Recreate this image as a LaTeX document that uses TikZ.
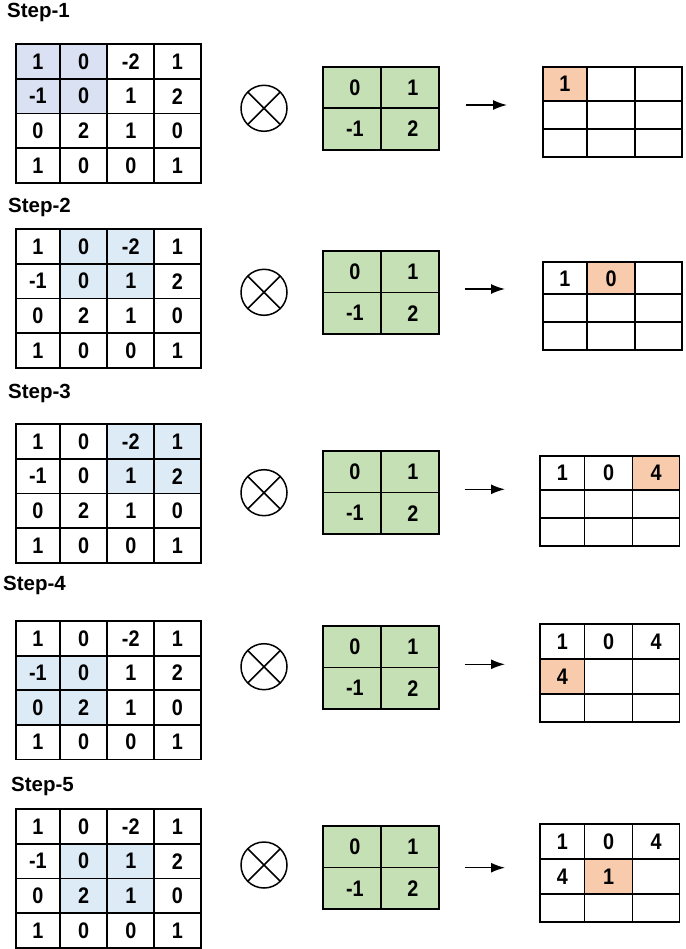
\documentclass[tikz,border=0pt]{standalone}
\usepackage{fontspec}
\setmainfont{Liberation Sans}
\newfontfamily\digitfont[FakeStretch=0.88]{Liberation Sans}
\usetikzlibrary{arrows.meta}
\definecolor{winA}{HTML}{D9E1F2}
\definecolor{winB}{HTML}{DDEBF7}
\definecolor{kern}{HTML}{C5E0B4}
\definecolor{outhl}{HTML}{F8CBAD}
\tikzset{
  cell/.style={draw=black, line width=1.8pt, inner sep=0pt, outer sep=0pt,
    font=\digitfont\fontsize{22.5}{22.5}\selectfont\bfseries},
  kcell/.style={cell, fill=kern, minimum width=58pt, minimum height=41.5pt},
  ocell/.style={cell},
  ohl/.style={cell, fill=outhl},
  win/.style={inner sep=0pt, outer sep=0pt, draw=none},
  steplabel/.style={anchor=west, inner sep=0pt, font=\fontsize{20.5}{20.5}\selectfont\bfseries},
  otimes/.style={circle, draw=black, line width=1.5pt, minimum size=46pt, inner sep=0pt,
    path picture={\draw[line width=1.5pt] (path picture bounding box.north west) -- (path picture bounding box.south east)
      (path picture bounding box.north east) -- (path picture bounding box.south west);}},
  arr/.style={line width=1.5pt, -{Latex[length=14pt,width=10pt]}}
}
\newcommand\ingrid[2]{%
  \foreach \rr/\cc/\vv in {0/0/1,0/1/0,0/2/-2,0/3/1,1/0/-1,1/1/0,1/2/1,1/3/2,2/0/0,2/1/2,2/2/1,2/3/0,3/0/1,3/1/0,3/2/0,3/3/1}{%
    \pgfmathsetmacro\xa{{15.7,60,107.3,154.3,200.7}[\cc]}%
    \pgfmathsetmacro\xb{{15.7,60,107.3,154.3,200.7}[\cc+1]}%
    \pgfmathsetmacro\ww{\xb-\xa}%
    \pgfmathsetmacro\xc{(\xa+\xb)/2}%
    \pgfmathsetmacro\yc{#2+34.6*\rr+17.3}%
    \node[cell, minimum width=\ww pt, minimum height=34.6pt] (#1-\rr-\cc) at (\xc,\yc) {\vv};
  }}
\newcommand\window[5]{%
  \pgfmathsetmacro\xa{{15.7,60,107.3,154.3,200.7}[#3]}%
  \pgfmathsetmacro\xb{{15.7,60,107.3,154.3,200.7}[#3+2]}%
  \pgfmathsetmacro\ww{\xb-\xa}%
  \pgfmathsetmacro\xc{(\xa+\xb)/2}%
  \pgfmathsetmacro\yc{#2+34.6*#4+34.6}%
  \node[win, fill=#5, minimum width=\ww pt, minimum height=69.2pt] (#1) at (\xc,\yc) {};
}
\newcommand\kernel[2]{%
  \foreach \rr/\cc/\vv in {0/0/0,0/1/1,1/0/-1,1/1/2}{%
    \pgfmathsetmacro\xc{323.3+58*\cc+29}%
    \pgfmathsetmacro\yc{#2+41.5*\rr+20.75}%
    \node[kcell] (#1-\rr-\cc) at (\xc,\yc) {\hspace{5pt}\vv};
  }}
\newcommand\outgrid[7]{%
  \foreach \rr/\cc/\vv/\st in {#7}{%
    \pgfmathsetmacro\dxa{{0,44.5,92.5,139.5}[\cc]}%
    \pgfmathsetmacro\dxb{{0,44.5,92.5,139.5}[\cc+1]}%
    \pgfmathsetmacro\ww{\dxb-\dxa}%
    \pgfmathsetmacro\xc{#2+(\dxa+\dxb)/2}%
    \pgfmathsetmacro\dya{\rr==0 ? 0 : (\rr==1 ? #4 : #4+#5)}%
    \pgfmathsetmacro\hh{\rr==0 ? #4 : (\rr==1 ? #5 : #6)}%
    \pgfmathsetmacro\yc{#3+\dya+\hh/2}%
    \node[\st, minimum width=\ww pt, minimum height=\hh pt] (#1-\rr-\cc) at (\xc,\yc) {\vv};
  }}
\begin{document}
\begin{tikzpicture}[x=1pt,y=-1pt]
\useasboundingbox (0,0) rectangle (685,949);
% ---------- Step 1
\node[steplabel] (s1l) at (7,12) {Step-1};
\window{s1w}{44.3}{0}{0}{winA}
\ingrid{s1i}{44.3}
\node[otimes] (s1x) at (264,108.3) {};
\kernel{s1k}{66.7}
\coordinate (s1a) at (466,105);
\coordinate (s1b) at (507,105);
\draw[arr] (s1a) -- (s1b);
\outgrid{s1o}{542.7}{67.3}{33.7}{28.3}{28}{0/0/1/ohl,0/1//ocell,0/2//ocell,1/0//ocell,1/1//ocell,1/2//ocell,2/0//ocell,2/1//ocell,2/2//ocell}
% ---------- Step 2
\node[steplabel] (s2l) at (8,207) {Step-2};
\window{s2w}{229.3}{1}{0}{winB}
\ingrid{s2i}{229.3}
\node[otimes] (s2x) at (264,292.3) {};
\kernel{s2k}{251}
\coordinate (s2a) at (464.5,289);
\coordinate (s2b) at (505,289);
\draw[arr] (s2a) -- (s2b);
\outgrid{s2o}{542.7}{262.3}{32}{28}{27.7}{0/0/1/ocell,0/1/0/ohl,0/2//ocell,1/0//ocell,1/1//ocell,1/2//ocell,2/0//ocell,2/1//ocell,2/2//ocell}
% ---------- Step 3
\node[steplabel] (s3l) at (8,393) {Step-3};
\window{s3w}{424.3}{2}{0}{winB}
\ingrid{s3i}{424.3}
\node[otimes] (s3x) at (264,492.7) {};
\kernel{s3k}{451}
\coordinate (s3a) at (464.5,489.3);
\coordinate (s3b) at (505,489.3);
\draw[arr] (s3a) -- (s3b);
\outgrid{s3o}{540}{456}{34}{28.3}{27.7}{0/0/1/ocell,0/1/0/ocell,0/2/4/ohl,1/0//ocell,1/1//ocell,1/2//ocell,2/0//ocell,2/1//ocell,2/2//ocell}
% ---------- Step 4
\node[steplabel] (s4l) at (3,585) {Step-4};
\window{s4w}{621}{0}{1}{winB}
\ingrid{s4i}{621}
\node[otimes] (s4x) at (264,666.7) {};
\kernel{s4k}{626}
\coordinate (s4a) at (464.5,664.3);
\coordinate (s4b) at (505,664.3);
\draw[arr] (s4a) -- (s4b);
\outgrid{s4o}{540}{624}{35}{35}{28.3}{0/0/1/ocell,0/1/0/ocell,0/2/4/ocell,1/0/4/ohl,1/1//ocell,1/2//ocell,2/0//ocell,2/1//ocell,2/2//ocell}
% ---------- Step 5
\node[steplabel] (s5l) at (11,786.7) {Step-5};
\window{s5w}{809.3}{1}{1}{winB}
\ingrid{s5i}{809.3}
\node[otimes] (s5x) at (264,865) {};
\kernel{s5k}{826}
\coordinate (s5a) at (464.5,867.7);
\coordinate (s5b) at (505,867.7);
\draw[arr] (s5a) -- (s5b);
\outgrid{s5o}{540}{824}{35}{35}{28.3}{0/0/1/ocell,0/1/0/ocell,0/2/4/ocell,1/0/4/ocell,1/1/1/ohl,1/2//ocell,2/0//ocell,2/1//ocell,2/2//ocell}
\end{tikzpicture}
\end{document}
